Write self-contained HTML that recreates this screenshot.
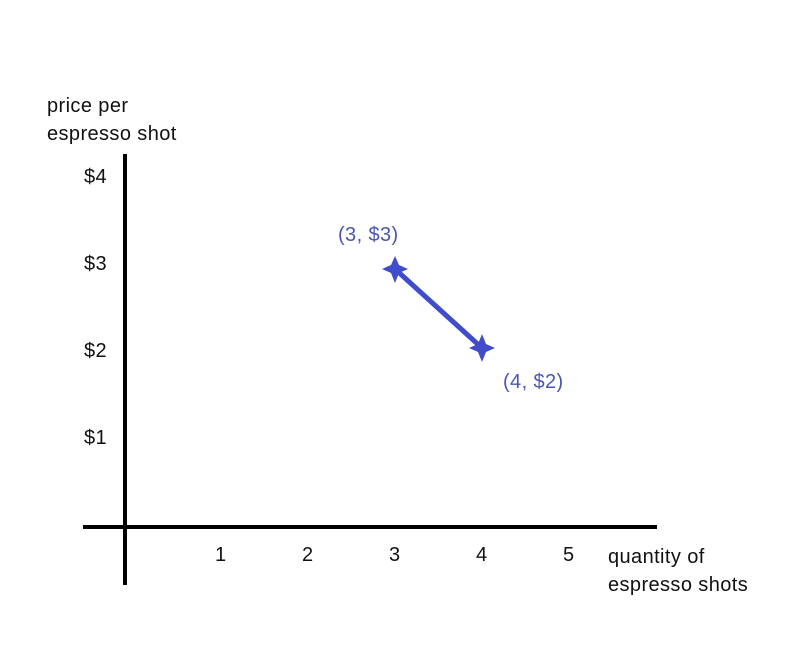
<!DOCTYPE html>
<html><head><style>
body{margin:0;background:#fff;width:794px;height:663px;overflow:hidden;position:relative;font-family:"Liberation Sans",sans-serif;}
.t{position:absolute;font-size:20px;letter-spacing:0.4px;color:#111;white-space:nowrap;line-height:28px}
.b{color:#4a55b5}
</style></head><body>
<svg width="794" height="663" style="position:absolute;left:0;top:0">
<line x1="125" y1="154" x2="125" y2="585" stroke="#000" stroke-width="4"/>
<line x1="83" y1="527" x2="657" y2="527" stroke="#000" stroke-width="4"/>
<line x1="395" y1="269" x2="482" y2="348" stroke="#3f4ccc" stroke-width="5"/>
<path d="M395 256 L399 265 L408 269 L399 273 L395 283 L391 273 L382 269 L391 265Z" fill="#3f4ccc"/>
<path d="M482 334 L486 344 L495 348 L486 352 L482 362 L478 352 L469 348 L478 344Z" fill="#3f4ccc"/>
</svg>
<div class="t" style="left:47px;top:92px">price per<br>espresso shot</div>
<div class="t" style="left:84px;top:163px">$4</div>
<div class="t" style="left:84px;top:250px">$3</div>
<div class="t" style="left:84px;top:337px">$2</div>
<div class="t" style="left:84px;top:424px">$1</div>
<div class="t" style="left:215px;top:541px">1</div>
<div class="t" style="left:302px;top:541px">2</div>
<div class="t" style="left:389px;top:541px">3</div>
<div class="t" style="left:476px;top:541px">4</div>
<div class="t" style="left:563px;top:541px">5</div>
<div class="t" style="left:608px;top:543px">quantity of<br>espresso shots</div>
<div class="t b" style="left:338px;top:221px">(3, $3)</div>
<div class="t b" style="left:503px;top:368px">(4, $2)</div>
</body></html>
